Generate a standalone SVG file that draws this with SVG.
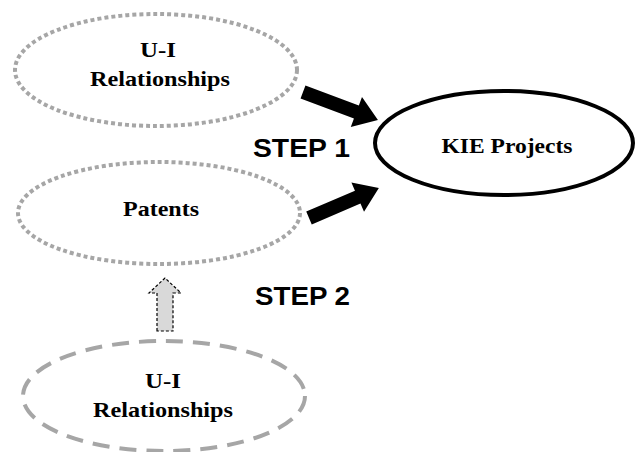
<svg xmlns="http://www.w3.org/2000/svg" width="636" height="452" viewBox="0 0 636 452">
<style>
.lbl{font-family:"Liberation Serif","Times New Roman",serif;font-weight:bold;font-size:22px;fill:#000;text-anchor:middle}
.step{font-family:"Liberation Sans",Arial,sans-serif;font-weight:bold;font-size:26px;fill:#000}
.dot{fill:none;stroke:#a6a6a6;stroke-width:4;stroke-dasharray:4 3}
.dash{fill:none;stroke:#a6a6a6;stroke-width:4;stroke-dasharray:17 10}
.solid{fill:none;stroke:#000;stroke-width:4}
.blk{fill:#000}
</style>
<rect width="636" height="452" fill="#fff"/>
<g id="ui-top">
<ellipse class="dot" cx="156" cy="70" rx="141" ry="56"/>
<text class="lbl" x="158" y="57" textLength="36" lengthAdjust="spacingAndGlyphs">U-I</text>
<text class="lbl" x="160" y="86" textLength="140" lengthAdjust="spacingAndGlyphs">Relationships</text>
</g>
<g id="patents">
<ellipse class="dot" cx="159" cy="213" rx="141" ry="51"/>
<text class="lbl" x="161" y="216" textLength="76" lengthAdjust="spacingAndGlyphs">Patents</text>
</g>
<g id="ui-bottom">
<ellipse class="dash" cx="164" cy="396" rx="141" ry="55"/>
<text class="lbl" x="163" y="388" textLength="36" lengthAdjust="spacingAndGlyphs">U-I</text>
<text class="lbl" x="163" y="417" textLength="140" lengthAdjust="spacingAndGlyphs">Relationships</text>
</g>
<g id="kie">
<ellipse class="solid" cx="504" cy="143" rx="129" ry="52"/>
<text class="lbl" x="507" y="153" textLength="131" lengthAdjust="spacingAndGlyphs">KIE Projects</text>
</g>
<g id="labels">
<text class="step" x="253" y="157" textLength="97" lengthAdjust="spacingAndGlyphs">STEP 1</text>
<text class="step" x="255" y="305" textLength="95" lengthAdjust="spacingAndGlyphs">STEP 2</text>
</g>
<g id="connectors">
<polygon class="blk" transform="translate(303,92) rotate(20.5)" points="0,-7 57,-7 57,-16 80,0 57,16 57,7 0,7"/>
<polygon class="blk" transform="translate(309,218) rotate(-23.2)" points="0,-7 53,-7 53,-16 76,0 53,16 53,7 0,7"/>
<polygon fill="#d9d9d9" stroke="#000" stroke-width="1.2" stroke-dasharray="3 2" points="157,331 157,293 149,293 165,278 181,293 173,293 173,331"/>
</g>
</svg>
